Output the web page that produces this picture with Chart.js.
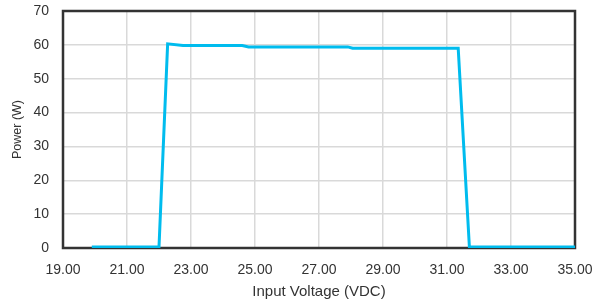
<!DOCTYPE html>
<html lang="en">
<head>
<meta charset="UTF-8">
<title>Power vs Input Voltage</title>
<script src="https://cdn.jsdelivr.net/npm/chart.js"></script>
<style>
    html, body { margin: 0; padding: 0; background: #fff; }
    .chart-container { position: relative; width: 595px; height: 305px; }
</style>
</head>
<body>
<div class="chart-container">
    <canvas id="powerChart"></canvas>
</div>
<script>
    // values
    const voltage = [19.9, 22.0, 22.27, 22.75, 24.6, 24.8, 27.9, 28.05, 31.35, 31.7, 35.0];
    const power   = [0.3,  0.3,  60.3,  59.8,  59.8, 59.4, 59.4, 59.0,  59.0,  0.3,  0.3];
    const xTicks = [19, 21, 23, 25, 27, 29, 31, 33, 35];
    const yTicks = [0, 10, 20, 30, 40, 50, 60, 70];

    const points = voltage.map((v, i) => ({ x: v, y: power[i] }));

    // dark frame round the plot area, drawn under the line
    const framePlugin = {
        id: 'frame',
        beforeDatasetsDraw(chart) {
            const a = chart.chartArea;
            const ctx = chart.ctx;
            ctx.save();
            ctx.strokeStyle = '#333333';
            ctx.lineWidth = 2.5;
            ctx.strokeRect(a.left, a.top, a.right - a.left, a.bottom - a.top);
            ctx.restore();
        }
    };

    const fam = "'Liberation Sans', Arial, sans-serif";
    const tickFont = { family: fam, size: 14 };

    new Chart(document.getElementById('powerChart'), {
        type: 'line',
        data: {
            datasets: [{
                data: points,
                borderColor: '#00bcee',
                borderWidth: 3,
                pointRadius: 0,
                tension: 0,
                fill: false
            }]
        },
        options: {
            responsive: true,
            maintainAspectRatio: false,
            animation: false,
            layout: { padding: { top: 11, right: 20, left: 0, bottom: 0 } },
            plugins: { legend: { display: false }, tooltip: { enabled: false } },
            scales: {
                x: {
                    type: 'linear',
                    min: 19, max: 35,
                    afterBuildTicks: s => { s.ticks = xTicks.map(v => ({ value: v })); },
                    afterFit: s => { s.height = 57; s.paddingLeft = 0; s.paddingRight = 0; },
                    grid: { color: '#d9d9d9', lineWidth: 1.5, drawTicks: false },
                    border: { display: false },
                    ticks: {
                        color: '#333333', font: tickFont, padding: 14, maxRotation: 0,
                        callback: v => v.toFixed(2)
                    },
                    title: { display: true, text: 'Input Voltage (VDC)', color: '#333333', font: { family: fam, size: 15 }, padding: { top: 4 } }
                },
                y: {
                    min: 0, max: 70,
                    afterBuildTicks: s => { s.ticks = yTicks.map(v => ({ value: v })); },
                    afterFit: s => { s.width = 63; s.paddingTop = 0; s.paddingBottom = 0; },
                    grid: { color: '#d9d9d9', lineWidth: 1.5, drawTicks: false },
                    border: { display: false },
                    ticks: { color: '#333333', font: tickFont, padding: 14 },
                    title: { display: true, text: 'Power (W)', color: '#333333', font: { family: fam, size: 12.5 }, padding: { top: 10, bottom: 0 } }
                }
            }
        },
        plugins: [framePlugin]
    });
</script>
</body>
</html>
